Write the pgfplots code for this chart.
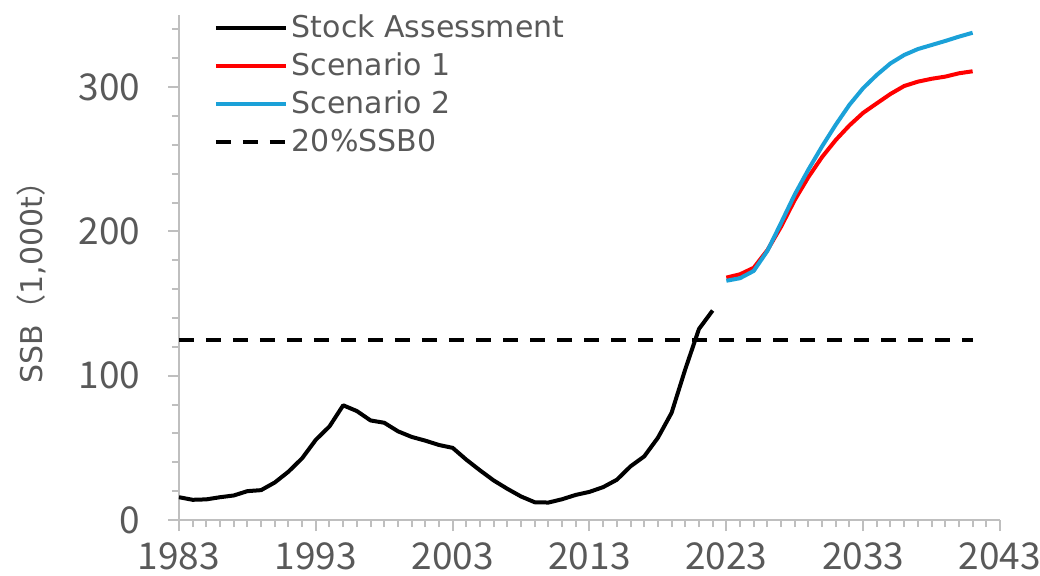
\documentclass[border=0pt]{standalone}
\usepackage{fontspec}
\setmainfont{Noto Sans CJK JP}
\newfontfamily\legfont{DejaVu Sans}
\usepackage{pgfplots}
\pgfplotsset{compat=1.18}
\definecolor{axgray}{HTML}{BFBFBF}
\definecolor{txtgray}{HTML}{595959}
\definecolor{sblue}{HTML}{1BA1D8}
\definecolor{sred}{HTML}{FF0000}
\begin{document}
\begin{tikzpicture}
\path[use as bounding box] (-89.5pt,-27.5pt) rectangle (430.5pt,260pt);
\begin{axis}[
  at={(0,0)}, anchor=south west,
  scale only axis, width=410.5pt, height=252.5pt,
  xmin=1983, xmax=2043, ymin=0, ymax=350,
  axis x line*=bottom, axis y line*=left,
  axis line style={axgray, line width=1.2pt, -},
  xtick={1983,1993,2003,2013,2023,2033,2043},
  minor xtick={1983,1984,...,2043},
  ytick={0,100,200,300},
  minor ytick={20,40,60,80,120,140,160,180,220,240,260,280,320,340},
  tick align=outside,
  major tick length=5.5pt, minor tick length=3.5pt,
  tick style={axgray, line width=1pt},
  every tick/.style={axgray, line width=1pt},
  ticklabel style={font=\fontsize{18.5}{22}\selectfont, text=txtgray, inner sep=1pt},
  /pgf/number format/assume math mode=true,
  xticklabel style={/pgf/number format/1000 sep={}, anchor=north, yshift=-4.5pt, text depth=0pt},
  yticklabel style={anchor=east, xshift=-12.7pt},
  ylabel={{\legfont SSB}（{\legfont 1,000t}）},
  ylabel style={at={(axis description cs:-0.1795,0.485)}, anchor=center, font=\fontsize{15}{18}\selectfont, text=txtgray, inner sep=1pt},
  legend cell align=left,
  legend style={at={(axis description cs:0.042,1.012)}, anchor=north west, draw=none, fill=none, inner sep=0pt,
    font=\legfont\fontsize{15}{18}\selectfont, text=txtgray, row sep=0pt,
    nodes={text height=11pt, text depth=2pt, inner ysep=3pt, inner xsep=2pt}},
  legend image code/.code={\draw[#1] (0pt,0pt) -- (35pt,0pt);},
  clip=false,
]
\addplot[black, line width=2pt, line join=round] coordinates {
(1983,15.8) (1984,14.0) (1985,14.3) (1986,15.8) (1987,17.0) (1988,20.0) (1989,20.7) (1990,26.0)
(1991,33.5) (1992,42.8) (1993,55.6) (1994,64.9) (1995,79.5) (1996,75.5) (1997,69.0) (1998,67.4)
(1999,61.5) (2000,57.6) (2001,55.0) (2002,52.0) (2003,50.0) (2004,41.8) (2005,34.4) (2006,27.4)
(2007,21.6) (2008,16.3) (2009,12.3) (2010,12.1) (2011,14.4) (2012,17.4) (2013,19.5) (2014,22.8)
(2015,27.9) (2016,37.2) (2017,44.1) (2018,57.0) (2019,74.3) (2020,104.5) (2021,132.4) (2022,145.2)
};
\addlegendentry{Stock Assessment}
\addplot[sred, line width=2pt, line join=round] coordinates {
(2023,168.0) (2024,170.3) (2025,174.8) (2026,187.0) (2027,203.3) (2028,221.8) (2029,237.7) (2030,251.6)
(2031,263.4) (2032,273.5) (2033,282.2) (2034,288.8) (2035,295.3) (2036,300.8) (2037,303.8) (2038,305.8)
(2039,307.3) (2040,309.6) (2041,311.0)
};
\addlegendentry{Scenario 1}
\addplot[sblue, line width=2pt, line join=round] coordinates {
(2023,165.8) (2024,167.6) (2025,172.6) (2026,186.5) (2027,205.9) (2028,225.6) (2029,242.9) (2030,259.0)
(2031,274.0) (2032,287.8) (2033,299.3) (2034,308.5) (2035,316.5) (2036,322.3) (2037,326.4) (2038,329.2)
(2039,332.0) (2040,335.0) (2041,337.7)
};
\addlegendentry{Scenario 2}
\addplot[black, line width=2pt, dash pattern=on 7.5pt off 6pt] coordinates {(1983,125) (2041,125)};
\addlegendentry{20\%SSB0}
\end{axis}
\end{tikzpicture}
\end{document}
